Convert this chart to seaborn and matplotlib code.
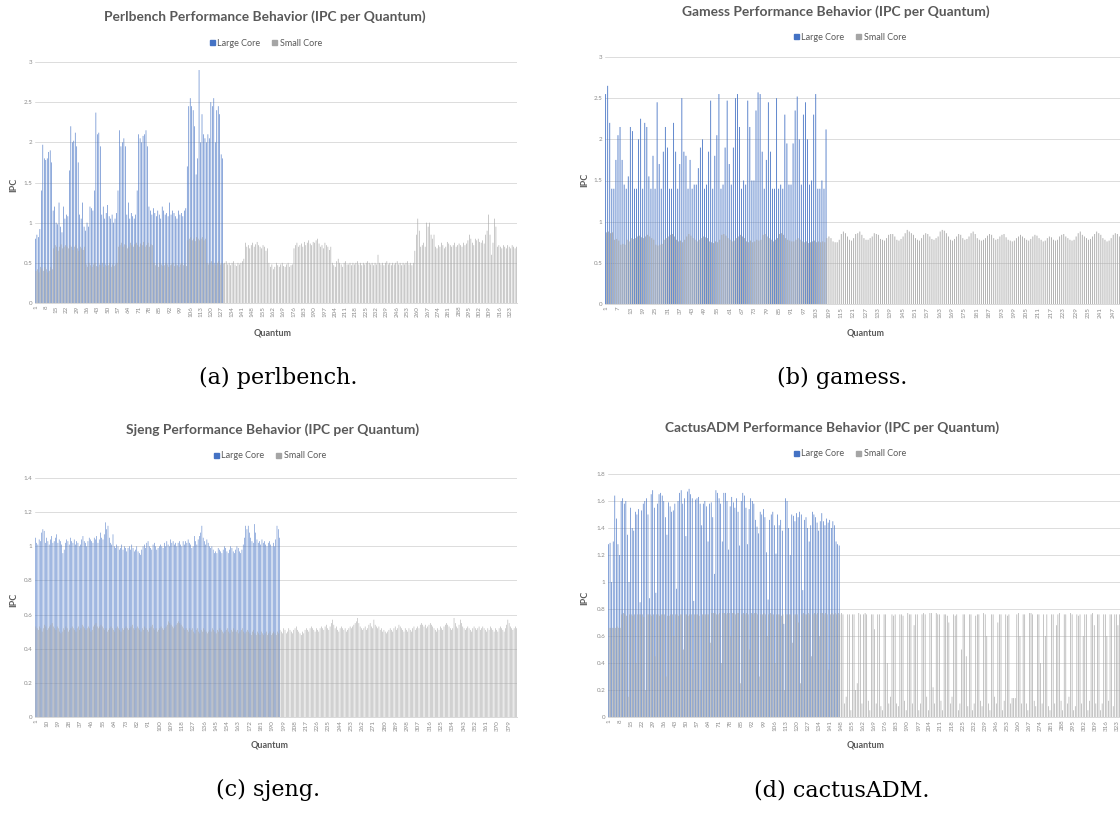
import pandas as pd
import seaborn as sns
import matplotlib.pyplot as plt
from matplotlib.patches import Patch

# ---- data (IPC per quantum) ----
perl_large = [
    0.80, 0.85, 0.82, 0.92, 1.40, 1.97, 1.80, 1.78, 1.80, 1.88, 1.90, 1.75,
    1.15, 1.20, 1.00, 0.98, 1.25, 0.95, 0.88, 1.20, 1.05, 1.10, 1.08, 1.65,
    2.20, 2.00, 2.02, 2.12, 1.95, 1.75, 1.10, 1.05, 1.25, 0.95, 0.90, 1.00,
    0.95, 1.20, 1.18, 1.15, 1.40, 2.37, 2.10, 2.12, 1.95, 1.10, 1.20, 1.05,
    1.12, 1.22, 1.08, 1.05, 1.10, 1.00, 1.05, 1.12, 1.40, 2.15, 1.95, 2.00,
    2.05, 1.95, 1.10, 1.25, 1.05, 1.12, 1.08, 1.05, 1.10, 1.40, 2.10, 2.05,
    2.00, 2.08, 2.10, 2.15, 1.95, 1.20, 1.15, 1.10, 1.18, 1.12, 1.08, 1.15,
    1.10, 1.05, 1.20, 1.15, 1.10, 1.12, 1.08, 1.25, 1.10, 1.15, 1.12, 1.08,
    1.05, 1.15, 1.10, 1.12, 1.08, 1.15, 1.18, 1.70, 2.45, 2.55, 2.45, 2.40,
    2.20, 1.60, 1.80, 2.90, 2.00, 2.35, 2.10, 2.05, 2.00, 2.10, 2.05, 2.50,
    2.45, 2.55, 2.00, 2.40, 2.45, 2.35, 1.85, 1.80,
]
perl_small = [
    0.40, 0.42, 0.38, 0.45, 0.43, 0.40, 0.45, 0.42, 0.38, 0.40, 0.45, 0.42,
    0.68, 0.72, 0.70, 0.65, 0.70, 0.73, 0.68, 0.70, 0.72, 0.70, 0.68, 0.72,
    0.70, 0.66, 0.70, 0.72, 0.68, 0.65, 0.70, 0.68, 0.66, 0.70,
    0.48, 0.45, 0.50, 0.47, 0.45, 0.48, 0.50, 0.46, 0.45, 0.48, 0.47, 0.50,
    0.45, 0.48, 0.46, 0.47, 0.50, 0.45, 0.48, 0.46, 0.48, 0.50,
    0.70, 0.72, 0.75, 0.70, 0.73, 0.72, 0.68, 0.70, 0.75, 0.72, 0.70, 0.73,
    0.75, 0.72, 0.70, 0.74, 0.72, 0.76, 0.70, 0.72, 0.75, 0.70, 0.73, 0.72,
    0.50, 0.47, 0.48, 0.45, 0.50, 0.48, 0.46, 0.47, 0.50, 0.48, 0.45, 0.47,
    0.48, 0.50, 0.46, 0.48, 0.47, 0.45, 0.48, 0.50, 0.47, 0.48, 0.46,
    0.78, 0.80, 0.82, 0.78, 0.80, 0.77, 0.82, 0.80, 0.78, 0.80, 0.82, 0.78, 0.80,
    0.50, 0.48, 0.50, 0.52, 0.48, 0.50, 0.47, 0.50, 0.52, 0.48, 0.50, 0.49,
    # small core only from here
    0.50, 0.52, 0.48, 0.50, 0.47, 0.50, 0.52, 0.48, 0.46, 0.50, 0.48, 0.50, 0.52, 0.55,
    0.75, 0.70, 0.72, 0.68, 0.72, 0.75, 0.70, 0.73, 0.76, 0.72, 0.70, 0.68, 0.72, 0.70, 0.65, 0.68,
    0.50, 0.45, 0.48, 0.42, 0.45, 0.50, 0.47, 0.45, 0.48, 0.50, 0.46, 0.45, 0.48, 0.50, 0.45, 0.47, 0.48,
    0.68, 0.72, 0.75, 0.70, 0.72, 0.74, 0.70, 0.76, 0.72, 0.75, 0.78, 0.74, 0.72,
    0.76, 0.75, 0.78, 0.80, 0.74, 0.70, 0.72, 0.68, 0.75, 0.72, 0.70, 0.66, 0.70,
    0.50, 0.47, 0.45, 0.52, 0.55, 0.50, 0.48, 0.45, 0.50, 0.52, 0.48,
    0.48, 0.50, 0.47, 0.50, 0.48, 0.50, 0.52, 0.48, 0.50, 0.47, 0.50, 0.48, 0.50, 0.52, 0.50,
    0.48, 0.50, 0.47, 0.50, 0.48, 0.60, 0.50, 0.48, 0.50, 0.47, 0.50, 0.52, 0.48, 0.50, 0.47,
    0.50, 0.48, 0.50, 0.52, 0.48, 0.50, 0.47, 0.50, 0.48, 0.50, 0.52, 0.48, 0.50, 0.47, 0.50,
    0.65, 0.85, 1.05, 0.90, 0.70, 0.72, 0.75, 0.70, 1.00, 0.95, 1.00, 0.85, 0.80, 0.85,
    0.70, 0.68, 0.72, 0.70, 0.75, 0.72, 0.68, 0.70, 0.76, 0.74, 0.72, 0.70, 0.72, 0.75,
    0.70, 0.72, 0.74, 0.72, 0.70, 0.75, 0.72, 0.74, 0.78, 0.85, 0.80, 0.75, 0.72,
    0.80, 0.78, 0.80, 0.76, 0.75, 0.78, 0.74, 0.85, 0.90, 1.10, 0.85, 0.60, 0.75, 1.05, 0.95,
    0.70, 0.72, 0.70, 0.68, 0.72, 0.70, 0.68, 0.72, 0.70, 0.68, 0.72, 0.70, 0.68, 0.70,
]

gamess_large = [
    2.55, 2.65, 2.20, 1.40, 1.40, 1.75, 2.05, 2.15, 1.75, 1.45, 1.40, 1.55,
    2.15, 2.10, 1.40, 1.40, 2.00, 2.25, 1.40, 2.20, 2.15, 1.55, 1.40, 1.80,
    1.40, 2.45, 1.70, 1.40, 1.85, 2.15, 1.90, 1.40, 1.40, 2.20, 1.85, 1.40,
    1.70, 2.50, 1.85, 1.80, 1.40, 1.75, 1.40, 1.45, 1.45, 1.65, 1.90, 2.00,
    1.40, 1.45, 1.85, 2.47, 1.40, 1.80, 2.05, 2.55, 1.40, 1.45, 1.90, 2.47,
    1.70, 1.45, 1.90, 2.50, 2.55, 2.15, 1.40, 1.50, 1.45, 2.47, 2.15, 1.50,
    1.50, 2.35, 2.57, 2.55, 1.85, 1.40, 1.75, 2.45, 1.85, 1.40, 1.40, 2.50,
    1.40, 1.45, 1.40, 2.30, 1.95, 1.45, 1.45, 1.95, 2.35, 2.52, 2.00, 1.45,
    2.30, 2.45, 2.00, 1.45, 1.50, 2.30, 2.55, 1.40, 1.40, 1.50, 1.40, 2.12,
]
gamess_small = [
    0.87, 0.88, 0.86, 0.87, 0.78, 0.79, 0.77, 0.72, 0.73, 0.72, 0.78, 0.76,
    0.80, 0.79, 0.80, 0.82, 0.83, 0.81, 0.80, 0.82, 0.84, 0.82, 0.80, 0.78,
    0.72, 0.71, 0.72, 0.73, 0.78, 0.80, 0.82, 0.84, 0.85, 0.82, 0.78, 0.76,
    0.77, 0.75, 0.78, 0.82, 0.85, 0.83, 0.80, 0.78, 0.76, 0.78, 0.80, 0.82,
    0.81, 0.80, 0.76, 0.75, 0.74, 0.76, 0.75, 0.78, 0.84, 0.85, 0.83, 0.80,
    0.78, 0.76, 0.77, 0.80, 0.82, 0.84, 0.82, 0.80, 0.76, 0.75, 0.77, 0.75,
    0.76, 0.78, 0.77, 0.78, 0.84, 0.85, 0.82, 0.80, 0.78, 0.76, 0.78, 0.80,
    0.85, 0.86, 0.84, 0.80, 0.78, 0.77, 0.76, 0.76, 0.78, 0.80, 0.78, 0.76,
    0.75, 0.76, 0.74, 0.75, 0.76, 0.77, 0.75, 0.76, 0.75, 0.76, 0.75, 0.80,
    # small core only from here
    0.82, 0.80, 0.76, 0.75, 0.75, 0.78, 0.85, 0.88, 0.86, 0.82,
    0.78, 0.77, 0.80, 0.85, 0.86, 0.88, 0.84, 0.80, 0.78, 0.78,
    0.80, 0.82, 0.86, 0.85, 0.84, 0.79, 0.78, 0.77, 0.80, 0.84,
    0.85, 0.85, 0.82, 0.78, 0.77, 0.79, 0.82, 0.86, 0.90, 0.88,
    0.86, 0.84, 0.80, 0.78, 0.77, 0.80, 0.84, 0.86, 0.85, 0.82,
    0.79, 0.78, 0.80, 0.82, 0.88, 0.90, 0.89, 0.86, 0.82, 0.78,
    0.77, 0.79, 0.82, 0.85, 0.84, 0.80, 0.78, 0.79, 0.82, 0.86,
    0.88, 0.85, 0.80, 0.78, 0.77, 0.78, 0.80, 0.83, 0.85, 0.84,
    0.80, 0.78, 0.79, 0.82, 0.84, 0.85, 0.81, 0.78, 0.77, 0.76,
    0.77, 0.80, 0.82, 0.84, 0.82, 0.80, 0.78, 0.77, 0.79, 0.82,
    0.84, 0.83, 0.80, 0.78, 0.76, 0.77, 0.80, 0.82, 0.81, 0.78,
    0.77, 0.78, 0.82, 0.84, 0.85, 0.82, 0.80, 0.78, 0.77, 0.78,
    0.82, 0.86, 0.88, 0.84, 0.82, 0.80, 0.78, 0.79, 0.82, 0.85,
    0.88, 0.86, 0.84, 0.80, 0.78, 0.76, 0.77, 0.80, 0.84, 0.86,
    0.85, 0.82,
]

sjeng_large = [
    1.05, 1.02, 1.01, 1.04, 1.03, 1.08, 1.10, 1.09, 1.02, 1.05, 1.03, 1.01, 1.04, 1.06, 1.02, 1.03, 1.05, 1.07, 1.02, 1.04,
    1.03, 1.01, 0.96, 0.98, 1.02, 1.04, 1.03, 1.01, 1.05, 1.03, 1.02, 1.04, 1.01, 1.03, 1.02, 1.00, 1.01, 1.04, 1.06, 1.03,
    1.02, 1.00, 1.03, 1.05, 1.04, 1.03, 1.02, 1.05, 1.04, 1.06, 1.02, 1.04, 1.08, 1.05, 1.04, 1.07, 1.14, 1.10, 1.12, 1.05,
    1.02, 1.01, 1.07, 1.00, 0.99, 1.01, 1.00, 0.98, 0.99, 1.01, 0.98, 1.00, 0.99, 0.97, 0.99, 1.00, 0.98, 1.01, 0.99, 0.97,
    0.98, 1.00, 0.97, 0.96, 0.95, 0.98, 1.00, 1.01, 0.99, 1.02, 1.03, 1.00, 0.99, 0.98, 1.01, 1.02, 1.00, 0.98, 0.99, 1.00,
    1.01, 1.00, 0.99, 1.02, 1.00, 1.03, 1.01, 1.00, 1.04, 1.02, 1.03, 1.01, 1.02, 1.00, 1.02, 1.03, 1.01, 1.00, 1.03, 1.01,
    1.03, 1.02, 1.04, 1.02, 1.01, 0.99, 1.00, 1.06, 1.03, 1.01, 1.04, 1.06, 1.08, 1.12, 1.05, 1.03, 1.01, 1.04, 1.02, 1.00,
    0.99, 1.00, 0.98, 0.96, 0.97, 0.96, 0.99, 0.98, 0.97, 0.96, 0.98, 1.00, 0.99, 0.97, 0.96, 0.98, 1.00, 0.99, 0.97, 0.96,
    0.98, 1.00, 0.99, 0.97, 0.96, 0.98, 1.01, 1.05, 1.12, 1.10, 1.12, 1.08, 1.05, 1.03, 1.02, 1.13, 1.08, 1.04, 1.02, 1.03,
    1.01, 1.04, 1.02, 1.03, 1.01, 1.00, 1.02, 1.03, 1.01, 1.00, 1.02, 1.00, 1.04, 1.12, 1.10, 1.05,
]
sjeng_small = [
    0.53, 0.52, 0.51, 0.53, 0.52, 0.50, 0.52, 0.54, 0.53, 0.51, 0.52, 0.53, 0.54, 0.55, 0.53, 0.52, 0.51, 0.53, 0.52, 0.50,
    0.49, 0.50, 0.52, 0.51, 0.53, 0.52, 0.50, 0.51, 0.52, 0.53, 0.52, 0.51, 0.50, 0.52, 0.53, 0.51, 0.52, 0.54, 0.53, 0.52,
    0.51, 0.52, 0.53, 0.52, 0.50, 0.51, 0.53, 0.54, 0.55, 0.53, 0.52, 0.53, 0.54, 0.53, 0.52, 0.51, 0.52, 0.50, 0.51, 0.52,
    0.53, 0.52, 0.51, 0.50, 0.52, 0.53, 0.52, 0.51, 0.50, 0.52, 0.51, 0.52, 0.53, 0.52, 0.51, 0.52, 0.53, 0.54, 0.52, 0.51,
    0.52, 0.53, 0.52, 0.51, 0.50, 0.52, 0.51, 0.53, 0.52, 0.51, 0.50, 0.52, 0.53, 0.54, 0.52, 0.51, 0.52, 0.50, 0.51, 0.52,
    0.53, 0.52, 0.51, 0.52, 0.53, 0.54, 0.56, 0.55, 0.54, 0.53, 0.52, 0.53, 0.54, 0.55, 0.56, 0.55, 0.54, 0.53, 0.52, 0.51,
    0.52, 0.51, 0.50, 0.52, 0.51, 0.52, 0.50, 0.49, 0.51, 0.52, 0.50, 0.49, 0.51, 0.50, 0.52, 0.51, 0.50, 0.49, 0.50, 0.51,
    0.50, 0.52, 0.51, 0.50, 0.49, 0.51, 0.50, 0.52, 0.51, 0.50, 0.49, 0.50, 0.51, 0.52, 0.50, 0.49, 0.51, 0.50, 0.52, 0.51,
    0.50, 0.51, 0.49, 0.50, 0.51, 0.52, 0.50, 0.49, 0.50, 0.51, 0.50, 0.49, 0.48, 0.50, 0.51, 0.49, 0.48, 0.50, 0.49, 0.48,
    0.50, 0.49, 0.48, 0.49, 0.50, 0.48, 0.49, 0.50, 0.48, 0.49, 0.50, 0.49, 0.48, 0.50, 0.49, 0.51,
    # small core only from here
    0.50, 0.49, 0.52, 0.51, 0.49, 0.50, 0.52, 0.51, 0.50, 0.49, 0.51, 0.52, 0.53, 0.51, 0.50, 0.49, 0.48, 0.50, 0.49, 0.51,
    0.52, 0.51, 0.50, 0.52, 0.53, 0.52, 0.51, 0.50, 0.52, 0.51, 0.50, 0.52, 0.53, 0.52, 0.51, 0.53, 0.54, 0.52, 0.51, 0.53,
    0.55, 0.57, 0.54, 0.52, 0.53, 0.51, 0.50, 0.52, 0.53, 0.52, 0.51, 0.52, 0.50, 0.51, 0.52, 0.53, 0.52, 0.53, 0.54, 0.55,
    0.56, 0.58, 0.55, 0.53, 0.52, 0.51, 0.52, 0.53, 0.51, 0.52, 0.54, 0.55, 0.53, 0.52, 0.57, 0.54, 0.53, 0.52, 0.53, 0.51,
    0.52, 0.50, 0.51, 0.50, 0.49, 0.50, 0.51, 0.52, 0.51, 0.50, 0.52, 0.53, 0.51, 0.52, 0.54, 0.53, 0.52, 0.51, 0.50, 0.52,
    0.51, 0.50, 0.52, 0.51, 0.50, 0.52, 0.53, 0.51, 0.52, 0.53, 0.52, 0.54, 0.55, 0.54, 0.53, 0.54, 0.52, 0.53, 0.54, 0.55,
    0.54, 0.53, 0.52, 0.51, 0.50, 0.52, 0.51, 0.53, 0.52, 0.51, 0.53, 0.54, 0.55, 0.54, 0.53, 0.52, 0.51, 0.52, 0.58, 0.55,
    0.53, 0.52, 0.54, 0.57, 0.55, 0.53, 0.52, 0.51, 0.52, 0.53, 0.52, 0.51, 0.50, 0.52, 0.53, 0.52, 0.51, 0.52, 0.53, 0.51,
    0.52, 0.53, 0.52, 0.51, 0.50, 0.52, 0.51, 0.53, 0.52, 0.51, 0.50, 0.52, 0.51, 0.50, 0.52, 0.53, 0.52, 0.51, 0.50, 0.52,
    0.54, 0.57, 0.55, 0.53, 0.52, 0.51, 0.52, 0.53, 0.52,
]

cactus_large = [
    1.28, 1.29, 1.00, 1.30, 1.64, 1.47, 1.28, 1.20, 1.60, 1.62, 1.58, 1.60, 1.35, 1.00, 1.55, 1.40, 1.38, 1.52, 1.50, 1.54,
    0.85, 1.53, 1.58, 1.60, 1.62, 1.50, 0.88, 1.65, 1.68, 1.55, 0.92, 1.58, 1.65, 1.66, 1.64, 1.60, 1.48, 1.35, 1.59, 1.56,
    1.52, 1.53, 1.58, 0.95, 1.60, 1.66, 1.68, 1.58, 1.62, 1.34, 1.67, 1.69, 1.65, 1.62, 0.86, 1.61, 1.62, 1.63, 1.58, 1.42,
    1.58, 1.60, 1.56, 1.30, 1.58, 1.59, 1.48, 1.06, 1.68, 1.66, 1.62, 1.58, 1.30, 1.66, 1.66, 1.60, 1.24, 1.56, 1.63, 1.59,
    1.55, 1.62, 1.52, 1.27, 1.60, 1.66, 1.64, 1.55, 1.28, 1.54, 1.62, 1.60, 1.58, 1.46, 1.41, 1.36, 1.52, 1.50, 1.54, 1.48,
    1.22, 0.87, 1.46, 1.50, 1.52, 1.42, 1.21, 1.50, 1.42, 1.46, 1.38, 0.69, 1.62, 1.60, 1.40, 1.20, 1.50, 1.49, 1.45, 1.51,
    1.48, 1.52, 1.50, 0.94, 1.46, 1.48, 1.40, 1.30, 1.42, 1.52, 1.50, 1.48, 1.44, 1.38, 1.45, 1.51, 1.45, 1.42, 1.47, 1.44,
    1.46, 1.40, 1.45, 1.42, 1.30, 1.28, 1.27,
]
cactus_small = [
    0.66, 0.66, 0.66, 0.66, 0.66, 0.67, 0.66, 0.66, 0.76, 0.77, 0.76, 0.75, 0.15, 0.76, 0.76, 0.75, 0.76, 0.40, 0.76, 0.76,
    0.76, 0.76, 0.74, 0.20, 0.76, 0.76, 0.76, 0.75, 0.76, 0.45, 0.76, 0.76, 0.75, 0.76, 0.76, 0.76, 0.30, 0.75, 0.75, 0.76,
    0.76, 0.60, 0.76, 0.76, 0.75, 0.76, 0.76, 0.50, 0.76, 0.76, 0.75, 0.76, 0.76, 0.35, 0.76, 0.76, 0.76, 0.75, 0.20, 0.76,
    0.76, 0.76, 0.76, 0.76, 0.55, 0.77, 0.77, 0.77, 0.76, 0.76, 0.77, 0.40, 0.77, 0.77, 0.76, 0.77, 0.77, 0.60, 0.77, 0.77,
    0.76, 0.77, 0.77, 0.25, 0.76, 0.77, 0.76, 0.77, 0.76, 0.50, 0.77, 0.76, 0.77, 0.77, 0.76, 0.30, 0.76, 0.76, 0.77, 0.76,
    0.60, 0.76, 0.77, 0.76, 0.76, 0.40, 0.76, 0.76, 0.76, 0.75, 0.76, 0.20, 0.76, 0.76, 0.76, 0.76, 0.55, 0.76, 0.76, 0.76,
    0.70, 0.25, 0.76, 0.77, 0.76, 0.76, 0.77, 0.76, 0.45, 0.76, 0.77, 0.76, 0.77, 0.60, 0.77, 0.77, 0.76, 0.77, 0.76, 0.35,
    0.76, 0.77, 0.76, 0.77, 0.76, 0.77, 0.76,
    # small core only from here
    0.77, 0.76, 0.10, 0.15, 0.76, 0.76, 0.05, 0.76, 0.76, 0.20, 0.25, 0.77, 0.76, 0.10, 0.76, 0.77, 0.76, 0.12, 0.05, 0.76,
    0.76, 0.65, 0.10, 0.76, 0.76, 0.08, 0.05, 0.76, 0.76, 0.40, 0.10, 0.15, 0.76, 0.75, 0.76, 0.10, 0.08, 0.76, 0.76, 0.75,
    0.12, 0.05, 0.77, 0.76, 0.76, 0.10, 0.68, 0.76, 0.76, 0.05, 0.10, 0.76, 0.77, 0.76, 0.15, 0.05, 0.77, 0.77, 0.22, 0.10,
    0.77, 0.76, 0.76, 0.12, 0.05, 0.76, 0.76, 0.75, 0.70, 0.10, 0.15, 0.76, 0.75, 0.76, 0.05, 0.10, 0.50, 0.76, 0.76, 0.45,
    0.08, 0.76, 0.76, 0.05, 0.10, 0.75, 0.76, 0.76, 0.12, 0.08, 0.77, 0.76, 0.60, 0.10, 0.05, 0.76, 0.76, 0.15, 0.10, 0.70,
    0.76, 0.76, 0.05, 0.12, 0.76, 0.75, 0.76, 0.10, 0.14, 0.14, 0.14, 0.76, 0.77, 0.60, 0.10, 0.76, 0.76, 0.10, 0.05, 0.77,
    0.77, 0.76, 0.12, 0.08, 0.76, 0.76, 0.40, 0.10, 0.76, 0.60, 0.76, 0.08, 0.05, 0.76, 0.76, 0.10, 0.68, 0.76, 0.77, 0.12,
    0.05, 0.76, 0.76, 0.10, 0.15, 0.77, 0.76, 0.05, 0.08, 0.76, 0.75, 0.76, 0.10, 0.60, 0.76, 0.76, 0.05, 0.12, 0.76, 0.77,
    0.68, 0.10, 0.76, 0.76, 0.05, 0.10, 0.76, 0.76, 0.60, 0.12, 0.76, 0.76, 0.08, 0.76, 0.76, 0.68, 0.76,
]

BLUE = "#4472C4"
GRAY = "#A5A5A5"
TXT = "#595959"
W, H = 1120, 818

sns.set_theme(style="white")
plt.rcParams['font.family'] = ['Lato', 'DejaVu Sans']

fig = plt.figure(figsize=(W / 100, H / 100), dpi=100)


def px_axes(l, t, r, b):
    return fig.add_axes([l / W, 1 - b / H, (r - l) / W, (b - t) / H])


def draw_panel(box, large, small, ymax, ystep, tick_step, title, title_xy,
               legend_xy, ipc_xy, quantum_xy, caption, caption_xy):
    ax = px_axes(*box)
    n = len(small)
    df = pd.DataFrame({
        "quantum": list(range(1, len(large) + 1)) + list(range(1, n + 1)),
        "ipc": large + small,
        "core": ["Large Core"] * len(large) + ["Small Core"] * n,
    })
    sns.barplot(data=df, x="quantum", y="ipc", hue="core",
                order=list(range(1, n + 1)),
                hue_order=["Large Core", "Small Core"],
                palette=[BLUE, GRAY], saturation=1, errorbar=None,
                width=0.8, linewidth=0, legend=False, ax=ax)
    # thin bars: no pixel snapping so they blend like the original render
    for p in ax.patches:
        p.set_snap(False)
        p.set_antialiased(True)
    ax.set_xlim(-0.5, n - 0.5)
    ax.set_ylim(0, ymax)
    yt = [round(i * ystep, 2) for i in range(int(round(ymax / ystep)) + 1)]
    ax.set_yticks(yt)
    ax.set_yticklabels([f"{v:g}" for v in yt])
    xt = list(range(0, n, tick_step))
    ax.set_xticks(xt)
    ax.set_xticklabels([str(i + 1) for i in xt], rotation=90)
    ax.tick_params(axis="both", length=0, labelsize=4.5, labelcolor="#8c8c8c", pad=2)
    ax.set_xlabel("")
    ax.set_ylabel("")
    ax.yaxis.grid(True, color="#dcdcdc", linewidth=0.7)
    ax.set_axisbelow(True)
    for side in ["top", "right", "left"]:
        ax.spines[side].set_visible(False)
    ax.spines["bottom"].set_color("#d9d9d9")
    ax.spines["bottom"].set_linewidth(0.7)

    fig.text(title_xy[0] / W, 1 - title_xy[1] / H, title, ha="center", va="center",
             fontsize=9.9, fontweight="bold", color=TXT)
    handles = [Patch(color=BLUE, label="Large Core"), Patch(color=GRAY, label="Small Core")]
    fig.legend(handles=handles, loc="center", ncol=2, frameon=False,
               bbox_to_anchor=(legend_xy[0] / W, 1 - legend_xy[1] / H),
               fontsize=6.5, handlelength=0.55, handleheight=0.55, handletextpad=0.3,
               columnspacing=1.3, labelcolor=TXT, borderaxespad=0, borderpad=0)
    fig.text(ipc_xy[0] / W, 1 - ipc_xy[1] / H, "IPC", rotation=90, ha="center", va="center",
             fontsize=6.5, fontweight="bold", color=TXT)
    fig.text(quantum_xy[0] / W, 1 - quantum_xy[1] / H, "Quantum", ha="center", va="center",
             fontsize=6.5, fontweight="bold", color=TXT)
    fig.text(caption_xy[0] / W, 1 - caption_xy[1] / H, caption, ha="center", va="center",
             fontsize=16, color="black", family=["DejaVu Serif"])


draw_panel((35, 62, 517, 303), perl_large, perl_small, 3.0, 0.5, 7,
           "Perlbench Performance Behavior (IPC per Quantum)", (265, 17), (266, 43),
           (14, 185), (273, 333), "(a) perlbench.", (278, 378))
draw_panel((605, 57, 1120, 304), gamess_large, gamess_small, 3.0, 0.5, 6,
           "Gamess Performance Behavior (IPC per Quantum)", (836, 12), (850, 37),
           (585, 180), (866, 333), "(b) gamess.", (842, 378))
draw_panel((35, 478, 517, 717), sjeng_large, sjeng_small, 1.4, 0.2, 9,
           "Sjeng Performance Behavior (IPC per Quantum)", (273, 430), (270, 456),
           (14, 600), (270, 745), "(c) sjeng.", (268, 790))
draw_panel((608, 474, 1120, 717), cactus_large, cactus_small, 1.8, 0.2, 7,
           "CactusADM Performance Behavior (IPC per Quantum)", (832, 428), (850, 454),
           (585, 598), (866, 745), "(d) cactusADM.", (842, 790))

fig.savefig("out.png", dpi=100)
